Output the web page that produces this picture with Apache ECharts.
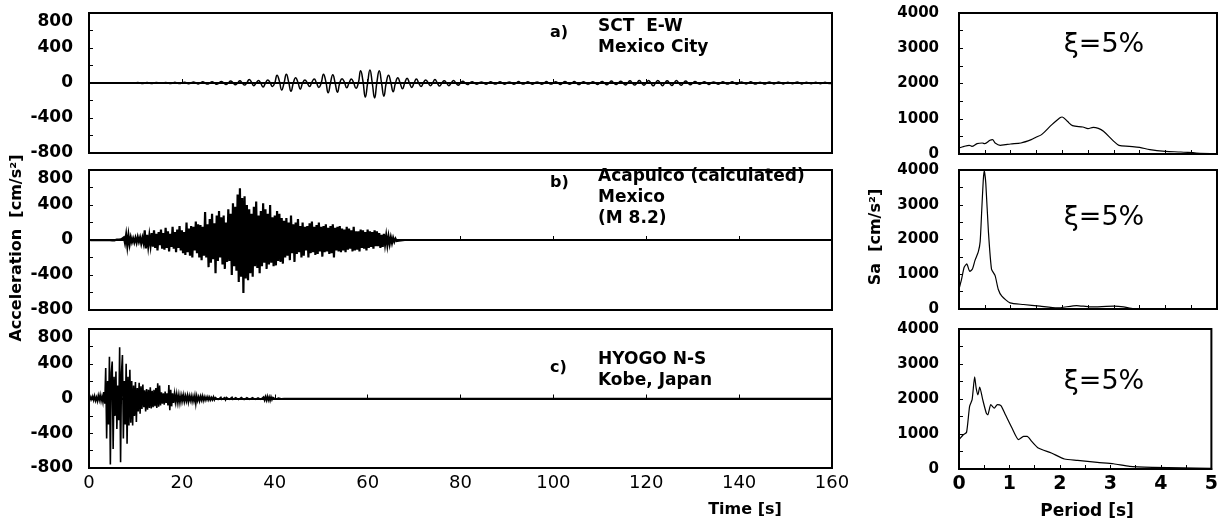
<!DOCTYPE html>
<html>
<head>
<meta charset="utf-8">
<script src="https://cdn.jsdelivr.net/npm/echarts@6/dist/echarts.min.js"></script>
<style>
    html, body { margin: 0; padding: 0; background: #fff; }
    #chart { width: 1221px; height: 527px; }
</style>
</head>
<body>
<div id="chart"></div>
<script>
    // a) SCT E-W, Mexico City   (sampled every dtA seconds from t = 0)
    const dtA = 0.5
    const accA = [
        0, 3, 0, -3, 0, 4, 1, -3, -1, 2, 0, -4, 0, 3, 1, -2, 0, 4, -1, -3,
        0, 5, 0, -5, 1, 6, 0, -6, 0, 5, 2, -4, 0, 7, 1, -6, 0, 8, 0, -7,
        0, 10, 2, -9, 0, 12, 0, -10, 1, 14, 0, -12, 0, 15, 2, -14, 0, 18, 0, -16,
        0, 22, 4, -20, 0, 25, 0, -24, 2, 40, 10, -30, 0, 30, -5, -45, 0, 35, 5, -40,
        0, 90, 20, -80, 0, 100, 10, -95, 0, 60, 5, -70, 0, 35, 0, -40, 10, 45, 0, -50,
        0, 100, 15, -110, 0, 95, 0, -105, 0, 50, 10, -55, 0, 45, 0, -60, 0, 140, 20, -160,
        0, 150, 0, -170, 10, 140, 0, -150, 0, 90, 5, -100, 0, 60, 0, -65, 0, 55, 0, -50,
        0, 45, 0, -40, 0, 35, 5, -30, 0, 40, 0, -35, 0, 25, 0, -30, 0, 30, 0, -25,
        0, 20, 0, -18, 0, 15, 0, -15, 0, 12, 0, -14, 0, 15, 0, -12, 0, 14, 0, -15,
        0, 12, 0, -14, 0, 16, 0, -12, 0, 15, 0, -15, 0, 12, 0, -14, 0, 16, 0, -12,
        0, 14, 0, -16, 0, 18, 0, -15, 0, 16, 0, -18, 0, 14, 0, -12, 0, 15, 0, -16,
        0, 18, 0, -20, 0, 22, 0, -18, 0, 20, 0, -22, 0, 25, 0, -24, 0, 28, 0, -26,
        0, 30, 0, -32, 0, 28, 0, -30, 0, 25, 0, -28, 0, 30, 0, -26, 0, 22, 0, -20,
        0, 18, 0, -15, 0, 14, 0, -16, 0, 12, 0, -14, 0, 15, 0, -12, 0, 14, 0, -13,
        0, 12, 0, -10, 0, 14, 0, -12, 0, 10, 0, -12, 0, 11, 0, -10, 0, 12, 0, -10,
        0, 10, 0, -9, 0, 11, 0, -10, 0, 9, 0, -8, 0, 10, 0, -9, 0, 8, 0, -7,
        0
    ]

    // b) Acapulco (calculated)
    const dtB = 0.25
    const accB = [
        0, 1, -1, 2, -2, 1, -1, 2, -2, 3, -2, 2, -3, 2, -2, 3, -3, 4, -3, 3, -4, 5, -4, 5,
        5, -5, 6, -4,
        10, -12, 30, -35,
        60, -70, 55, -50,
        30, -25, 20, -28,
        25, -30, 35, -20,
        30, -40, 25, -35,
        110, -95, 60, -70,
        50, -60, 80, -75,
        110, -90, 70, -120,
        90, -60, 120, -100,
        80, -110, 140, -90,
        100, -130, 70, -80,
        150, -100, 90, -140,
        120, -90, 160, -120,
        110, -150, 90, -170,
        200, -140, 130, -180,
        160, -200, 150, -120,
        210, -150, 180, -200,
        170, -230, 150, -180,
        320, -200, 180, -310,
        240, -260, 300, -220,
        190, -380, 280, -240,
        330, -200, 260, -280,
        280, -330, 200, -250,
        350, -240, 300, -400,
        420, -300, 380, -350,
        520, -480, 590, -420,
        480, -605, 500, -440,
        400, -460, 350, -380,
        300, -420, 380, -300,
        440, -320, 280, -380,
        330, -300, 420, -260,
        350, -330, 300, -280,
        400, -260, 260, -300,
        280, -290, 330, -240,
        300, -250, 250, -270,
        220, -200, 250, -180,
        200, -230, 280, -150,
        180, -250, 200, -160,
        240, -140, 160, -200,
        200, -180, 150, -120,
        160, -200, 190, -150,
        210, -140, 150, -170,
        170, -160, 200, -130,
        150, -190, 160, -140,
        180, -130, 140, -160,
        160, -150, 180, -200,
        140, -120, 150, -130,
        160, -140, 130, -120,
        120, -140, 150, -110,
        130, -100, 110, -130,
        150, -120, 100, -110,
        100, -130, 120, -90,
        110, -100, 90, -120,
        120, -90, 100, -80,
        90, -100, 110, -70,
        100, -70, 80, -90,
        60, -80, 70, -50,
        50, -60, 40, -45,
        30, -35, 25, -20,
        15, -12, 10, -8,
        5
    ]
    const tailB = [[68, 0], [160, 0]]

    // c) HYOGO N-S, Kobe
    const dtC = 0.2
    const accC = [
        10, -15, 20, -10, 25,
        -20, 30, -25, 15, -30,
        35, -20, 40, -30, 25,
        -40, 75, -60, 350, -460,
        200, -300, 480, -760, 300,
        425, -580, 250, -200, 310,
        -350, 150, -250, 590, -735,
        300, 500, -460, 200, -300,
        400, -520, 250, -310, 330,
        -280, 200, -310, 150, -200,
        190, -270, 120, -150, 180,
        -175, 140, -120, 160, -100,
        95, -150, 110, -130, 100,
        -110, 130, -115, 90, -100,
        100, -90, 120, -110, 175,
        -95, 150, -80, 70, -60,
        60, -70, 80, -50, 60,
        -80, 155, -135, 100, -90,
        60, -50, 55, -40, 50,
        -45, 40, -50, 35, -40,
        35, -30, 40, -35, 30,
        -30, 35, -40, 30, -25,
        30, -35, 25, -30, 35,
        -60, 30, -25, 20, -30,
        25, -20, 30, -25, 20,
        -20, 18, -15, 20, -18,
        15, -18, 12, -15, 18,
        -15, 12, -10, 15, -12,
        10, -12, 15, -10, 12,
        -12, 10, -15, 12, -10,
        12, -10, 10, -12, 15,
        -10, 12, -15, 10, -12,
        10, -12, 10, -8, 12,
        -10, 8, -12, 10, -8,
        10, -8, 12, -10, 8,
        -12, 10, -8, 12, -10,
        10, -12, 8, -10, 12,
        -10, 12, -15, 18, -20,
        20, -22, 25, -20, 18,
        -25, 20, -15, 12, -10,
        10, -8, 6, -5, 4,
        -4, 3, -2, 2, 0,
        0
    ]
    const tailC = [[43, 0], [160, 0]]

    // 反应谱 ξ=5%
    const periodA = [0, 0.1, 0.2, 0.25, 0.35, 0.45, 0.5, 0.6, 0.65, 0.7, 0.8, 0.9, 1.0, 1.2, 1.4, 1.5, 1.6, 1.8, 1.95, 2.0,
        2.1, 2.2, 2.4, 2.5, 2.6, 2.7, 2.8, 3.0, 3.1, 3.3, 3.5, 3.7, 4.0, 4.3, 4.6, 5.0]
    const saA = [170, 218, 246, 218, 293, 312, 293, 388, 407, 312, 246, 265, 284, 312, 407, 482, 549, 833, 1022, 1050,
        927, 804, 766, 719, 757, 728, 643, 359, 246, 218, 189, 123, 76, 57, 28, 10]

    const periodB = [0, 0.05, 0.1, 0.15, 0.21, 0.26, 0.31, 0.375, 0.41, 0.44, 0.47, 0.49, 0.52, 0.57, 0.63, 0.7, 0.76, 0.83, 0.99, 1.25,
        1.57, 1.9, 2.28, 2.54, 3.0, 3.19, 3.38, 4.0, 5.0]
    const saB = [570, 860, 1200, 1300, 1080, 1150, 1400, 1650, 1940, 2820, 3700, 3980, 3600, 2230, 1150, 960, 570, 370, 175, 130,
        80, 30, 100, 60, 80, 60, 8, 5, 5]

    const periodC = [0, 0.084, 0.15, 0.21, 0.26, 0.31, 0.34, 0.375, 0.41, 0.47, 0.54, 0.57, 0.63, 0.7, 0.76, 0.83, 0.92, 1.05, 1.18, 1.28,
        1.35, 1.44, 1.57, 1.83, 2.09, 2.35, 2.74, 3.06, 3.38, 3.84, 4.42, 5.0]
    const saC = [840, 980, 1050, 1790, 1980, 2630, 2310, 2120, 2340, 1980, 1600, 1550, 1840, 1740, 1840, 1810, 1550, 1170, 840, 930,
        930, 790, 600, 457, 285, 248, 190, 150, 76, 48, 30, 20]

    const notes = [
        {tag: 'a)', lines: ['SCT  E-W', 'Mexico City'], tagY: 33, y: 27},
        {tag: 'b)', lines: ['Acapulco (calculated)', 'Mexico', '(M 8.2)'], tagY: 183, y: 177},
        {tag: 'c)', lines: ['HYOGO N-S', 'Kobe, Japan'], tagY: 368, y: 360}
    ]
    const dampingLabel = 'ξ=5%'

    const FONT = '"DejaVu Sans", sans-serif'

    function toSeries(values, dt, tail) {
        let pts = values.map((v, i) => [+(i * dt).toFixed(3), v])
        return tail ? pts.concat(tail) : pts
    }

    const leftGrids = [
        {left: 89, top: 13, width: 743, height: 140},
        {left: 89, top: 170, width: 743, height: 140},
        {left: 89, top: 329, width: 743, height: 139}
    ]
    const rightGrids = [
        {left: 959, top: 13, width: 258, height: 141},
        {left: 959, top: 170, width: 258, height: 139},
        {left: 959, top: 329, width: 258, height: 140}
    ]

    let grid = leftGrids.concat(rightGrids).map(g => Object.assign({
        show: true, borderColor: '#000', borderWidth: 2, backgroundColor: 'transparent'
    }, g))

    let xAxis = [], yAxis = []
    for (let i = 0; i < 3; i++) {
        xAxis.push({
            type: 'value', gridIndex: i, min: 0, max: 160, interval: 20,
            axisLine: {show: true, lineStyle: {color: '#000', width: 2}},
            axisTick: {show: true, inside: true, length: 4, lineStyle: {color: '#000'}},
            axisLabel: {show: i === 2, color: '#000', fontFamily: FONT, fontSize: 18, margin: 6},
            splitLine: {show: false}
        })
        yAxis.push({
            type: 'value', gridIndex: i, min: -800, max: 800, interval: 400,
            axisLine: {show: true, lineStyle: {color: '#000', width: 2}},
            axisTick: {show: true, inside: true, length: 4, lineStyle: {color: '#000'}},
            minorTick: {show: true, splitNumber: 2, length: 4, lineStyle: {color: '#000'}},
            axisLabel: {color: '#000', fontFamily: FONT, fontWeight: 'bold', fontSize: 17, margin: 16,
                verticalAlignMaxLabel: 'top', formatter: v => String(v)},
            splitLine: {show: false}
        })
    }
    for (let i = 0; i < 3; i++) {
        xAxis.push({
            type: 'value', gridIndex: 3 + i, min: 0, max: 5, interval: 1,
            axisLine: {show: true, lineStyle: {color: '#000', width: 2}},
            axisTick: {show: true, inside: true, length: 4, lineStyle: {color: '#000'}},
            minorTick: {show: true, splitNumber: 2, length: 4, lineStyle: {color: '#000'}},
            axisLabel: {show: i === 2, color: '#000', fontFamily: FONT, fontWeight: 'bold', fontSize: 19, margin: 6},
            splitLine: {show: false}
        })
        yAxis.push({
            type: 'value', gridIndex: 3 + i, min: 0, max: 4000, interval: 1000,
            axisLine: {show: true, lineStyle: {color: '#000', width: 2}},
            axisTick: {show: true, inside: true, length: 4, lineStyle: {color: '#000'}},
            minorTick: {show: true, splitNumber: 2, length: 4, lineStyle: {color: '#000'}},
            axisLabel: {color: '#000', fontFamily: FONT, fontWeight: 'bold', fontSize: 15, margin: 20,
                formatter: v => String(v)},
            splitLine: {show: false}
        })
    }

    const line = (idx, data, width, smooth) => ({
        type: 'line', xAxisIndex: idx, yAxisIndex: idx, data: data,
        showSymbol: false, symbol: 'none', smooth: smooth || false, sampling: null,
        lineStyle: {color: '#000', width: width, join: 'miter'}, animation: false, silent: true, clip: true
    })

    let series = [
        line(0, toSeries(accA, dtA), 1.5, 0.5),
        line(1, toSeries(accB, dtB, tailB), 2.2),
        line(2, toSeries(accC, dtC, tailC), 1.6),
        line(3, periodA.map((p, i) => [p, saA[i]]), 1.2, 0.3),
        line(4, periodB.map((p, i) => [p, saB[i]]), 1.2, 0.2),
        line(5, periodC.map((p, i) => [p, saC[i]]), 1.2, 0.2)
    ]

    let graphic = []
    notes.forEach(n => {
        graphic.push({type: 'text', x: 550, y: n.tagY,
            style: {text: n.tag, font: 'bold 16px ' + FONT, fill: '#000', verticalAlign: 'middle'}})
        n.lines.forEach((t, k) => {
            graphic.push({type: 'text', x: 598, y: n.y + k * 21,
                style: {text: t, font: 'bold 17px ' + FONT, fill: '#000', verticalAlign: 'middle'}})
        })
    })
    ;[45, 218, 382].forEach(y => {
        graphic.push({type: 'text', x: 1104, y: y,
            style: {text: dampingLabel, font: '27px ' + FONT, fill: '#000', align: 'center', verticalAlign: 'middle'}})
    })
    graphic.push(
        {type: 'text', x: 745, y: 510,
            style: {text: 'Time [s]', font: 'bold 16px ' + FONT, fill: '#000', align: 'center', verticalAlign: 'middle'}},
        {type: 'text', x: 1087, y: 512,
            style: {text: 'Period [s]', font: 'bold 17px ' + FONT, fill: '#000', align: 'center', verticalAlign: 'middle'}},
        {type: 'text', x: 17, y: 248, rotation: Math.PI / 2,
            style: {text: 'Acceleration  [cm/s²]', font: 'bold 16px ' + FONT, fill: '#000', align: 'center', verticalAlign: 'middle'}},
        {type: 'text', x: 876, y: 237, rotation: Math.PI / 2,
            style: {text: 'Sa  [cm/s²]', font: 'bold 16px ' + FONT, fill: '#000', align: 'center', verticalAlign: 'middle'}}
    )

    let chart = echarts.init(document.getElementById('chart'))
    chart.setOption({
        animation: false,
        backgroundColor: '#fff',
        grid: grid,
        xAxis: xAxis,
        yAxis: yAxis,
        series: series,
        graphic: graphic
    })
</script>
</body>
</html>
